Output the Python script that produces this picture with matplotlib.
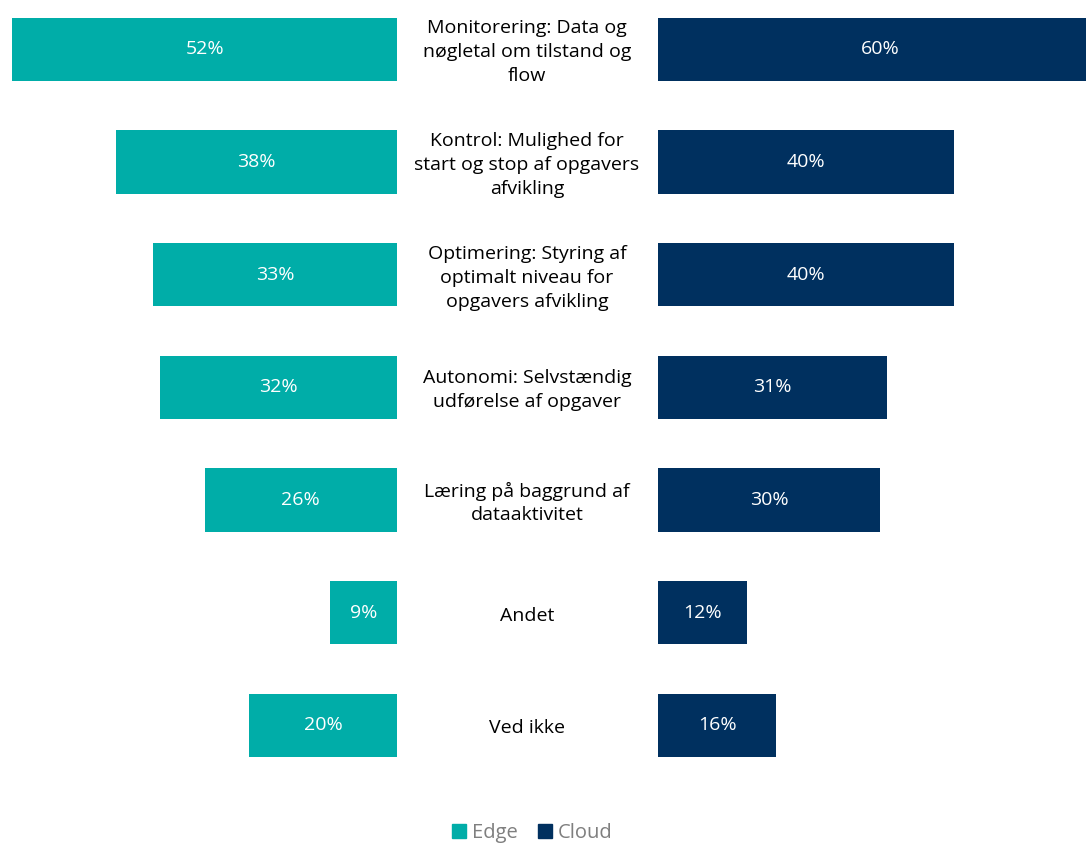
import matplotlib.pyplot as plt
from matplotlib.patches import Patch

categories = [
    "Monitorering: Data og\nnøgletal om tilstand og\nflow",
    "Kontrol: Mulighed for\nstart og stop af opgavers\nafvikling",
    "Optimering: Styring af\noptimalt niveau for\nopgavers afvikling",
    "Autonomi: Selvstændig\nudførelse af opgaver",
    "Læring på baggrund af\ndataaktivitet",
    "Andet",
    "Ved ikke",
]
edge = [52, 38, 33, 32, 26, 9, 20]
cloud = [60, 40, 40, 31, 30, 12, 16]

teal = "#00ADA8"
navy = "#00305F"
plt.rcParams['font.family'] = ['Open Sans', 'DejaVu Sans']

W, H = 1086, 843
fig = plt.figure(figsize=(W / 100, H / 100), dpi=100)
px_per_pct = 7.4
pitch = 112.67
ybottom = 781.7  # pixel row of the lower axes edge

def axes_rect(x0, x1):
    return [x0 / W, (H - ybottom) / H, (x1 - x0) / W, len(categories) * pitch / H]

ax_l = fig.add_axes(axes_rect(0, 397))
ax_r = fig.add_axes(axes_rect(658, 1086))
ax_l.set_xlim(397 / px_per_pct, 0)
ax_r.set_xlim(0, 428 / px_per_pct)

ypos = list(range(len(categories)))
for ax, vals, col in [(ax_l, edge, teal), (ax_r, cloud, navy)]:
    bars = ax.barh(ypos, vals, height=0.56, color=col)
    for b, v in zip(bars, vals):
        ax.text(v / 2, b.get_y() + b.get_height() / 2, f"{v}%",
                ha="center", va="center", color="white", fontsize=14)
    ax.set_ylim(len(categories) - 0.5, -0.5)
    ax.axis("off")

# category labels sit in the gap between the two halves
for y, cat in zip(ypos, categories):
    fy = (H - (ybottom - (len(categories) - 0.5 - y) * pitch)) / H
    fig.text(527 / W, fy - 3 / H, cat, ha="center", va="center", fontsize=14,
             color="#000000", linespacing=1.42)

handles = [Patch(color=teal, label="Edge"), Patch(color=navy, label="Cloud")]
fig.legend(handles=handles, loc="center", bbox_to_anchor=(532 / W, 1 - 833 / H),
           ncol=2, frameon=False, fontsize=14.5, labelcolor="#7f7f7f",
           handlelength=0.7, handleheight=0.7, handletextpad=0.3, columnspacing=1.0)

fig.savefig("out.png", dpi=100)
